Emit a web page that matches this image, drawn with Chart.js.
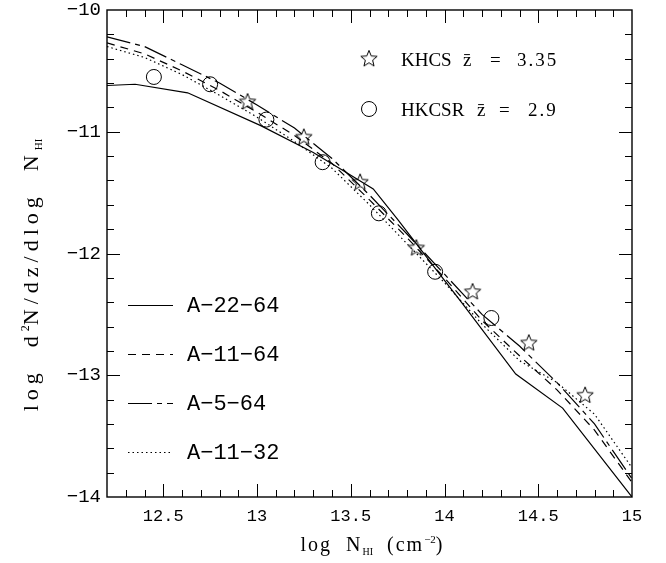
<!DOCTYPE html>
<html><head><meta charset="utf-8">
<script src="https://cdn.jsdelivr.net/npm/chart.js@4"></script>
<style>html,body{margin:0;padding:0;background:#fff;}#wrap{width:666px;height:563px;}</style>
</head><body><div id="wrap"><canvas id="c" width="666" height="563"></canvas></div>
<script>
// ---- data ----
const xTickLabels = [12.5, 13, 13.5, 14, 14.5, 15];
const yTickLabels = [-14, -13, -12, -11, -10];

const solidX = [12.2, 12.35, 12.63, 13.02, 13.3, 13.45, 13.62, 13.75, 14.0, 14.1, 14.38, 14.63, 15.0];
const a22_64 = [-10.62, -10.61, -10.68, -10.95, -11.17, -11.31, -11.47, -11.72, -12.22, -12.42, -12.99, -13.27, -14.0];

const simX   = [12.2, 12.4, 12.6, 12.8, 13.0, 13.2, 13.4, 13.6, 13.8, 14.0, 14.2, 14.4, 14.6, 14.8, 15.0];
const a11_64 = [-10.27, -10.36, -10.50, -10.66, -10.84, -11.03, -11.26, -11.56, -11.87, -12.20, -12.55, -12.84, -13.12, -13.45, -13.88];
const a5_64  = [-10.22, -10.30, -10.45, -10.60, -10.78, -10.97, -11.22, -11.52, -11.84, -12.17, -12.50, -12.76, -13.06, -13.40, -13.85];
const a11_32 = [-10.30, -10.39, -10.53, -10.70, -10.88, -11.08, -11.30, -11.60, -11.92, -12.24, -12.58, -12.88, -13.06, -13.32, -13.76];

const khcsX  = [12.95, 13.25, 13.55, 13.85, 14.15, 14.45, 14.75];
const khcsY  = [-10.75, -11.04, -11.41, -11.95, -12.31, -12.73, -13.16];
const hkcsrX = [12.45, 12.75, 13.05, 13.35, 13.65, 13.95, 14.25];
const hkcsrY = [-10.55, -10.61, -10.90, -11.25, -11.67, -12.15, -12.53];

const lineNames = ['A\u221222\u221264', 'A\u221211\u221264', 'A\u22125\u221264', 'A\u221211\u221232'];
const lineDashes = [[], [8, 6], [24, 5, 5, 5], [1.5, 3]];

// ---- helpers ----
function pts(xs, ys) { return xs.map((x, i) => ({ x: x, y: ys[i] })); }
function starPath(ctx, cx, cy, R, r) {
  ctx.beginPath();
  for (let k = 0; k < 10; k++) {
    const a = -Math.PI / 2 + k * Math.PI / 5;
    const rad = k % 2 === 0 ? R : r;
    ctx.lineTo(cx + rad * Math.cos(a), cy + rad * Math.sin(a));
  }
  ctx.closePath();
}
const starImg = document.createElement('canvas');
starImg.width = 22; starImg.height = 22;
(function () { const c = starImg.getContext('2d'); c.strokeStyle = '#000'; c.lineWidth = 1; starPath(c, 11, 11.8, 8.6, 3.8); c.stroke(); })();

function drawRich(ctx, parts, cx, cy) {
  let w = 0;
  parts.forEach(p => {
    ctx.font = p.size + 'px "Liberation Serif"';
    ctx.letterSpacing = (p.ls || 0) + 'px';
    p.w = ctx.measureText(p.t).width;
    w += p.w;
  });
  let x = cx - w / 2;
  parts.forEach(p => {
    ctx.font = p.size + 'px "Liberation Serif"';
    ctx.letterSpacing = (p.ls || 0) + 'px';
    ctx.fillText(p.t, x, cy + (p.dy || 0));
    x += p.w;
  });
  ctx.letterSpacing = '0px';
}

const framePlugin = {
  id: 'frame',
  afterDraw(chart) {
    const { ctx, chartArea: ca, scales: { x, y } } = chart;
    ctx.save();
    ctx.strokeStyle = '#000';
    ctx.lineWidth = 1.4;
    ctx.strokeRect(ca.left, ca.top, ca.right - ca.left, ca.bottom - ca.top);
    ctx.lineWidth = 1;
    ctx.beginPath();
    for (let i = Math.round(x.min * 10) + 1; i < Math.round(x.max * 10); i++) {
      const px = Math.round(x.getPixelForValue(i / 10)) + 0.5;
      const L = (i % 5 === 0) ? 13 : 7;
      ctx.moveTo(px, ca.bottom); ctx.lineTo(px, ca.bottom - L);
      ctx.moveTo(px, ca.top); ctx.lineTo(px, ca.top + L);
    }
    for (let i = Math.round(y.min * 5) + 1; i < Math.round(y.max * 5); i++) {
      const py = Math.round(y.getPixelForValue(i / 5)) + 0.5;
      const L = (i % 5 === 0) ? 13 : 7;
      ctx.moveTo(ca.left, py); ctx.lineTo(ca.left + L, py);
      ctx.moveTo(ca.right, py); ctx.lineTo(ca.right - L, py);
    }
    ctx.stroke();

    // data legend (top right)
    ctx.fillStyle = '#000';
    ctx.textBaseline = 'alphabetic';
    const lx = ca.left + 262;
    ctx.drawImage(starImg, lx - 11, ca.top + 49 - 11.8);
    ctx.beginPath(); ctx.arc(lx, ca.top + 99, 7.5, 0, Math.PI * 2); ctx.stroke();
    ctx.font = '19px "Liberation Serif"';
    ctx.fillText('KHCS', ca.left + 294, ca.top + 56);
    ctx.fillText('z\u0304', ca.left + 356, ca.top + 56);
    ctx.fillText('=', ca.left + 383, ca.top + 56);
    ctx.letterSpacing = '2px';
    ctx.fillText('3.35', ca.left + 410, ca.top + 56);
    ctx.letterSpacing = '0px';
    ctx.fillText('HKCSR', ca.left + 294, ca.top + 106);
    ctx.fillText('z\u0304', ca.left + 370, ca.top + 106);
    ctx.fillText('=', ca.left + 392, ca.top + 106);
    ctx.letterSpacing = '2px';
    ctx.fillText('2.9', ca.left + 421, ca.top + 106);
    ctx.letterSpacing = '0px';

    // model legend (bottom left)
    ctx.textBaseline = 'middle';
    ctx.font = '22px "Liberation Mono"';
    lineNames.forEach((nm, i) => {
      const yy = ca.top + 295 + 49 * i;
      ctx.setLineDash(lineDashes[i]);
      ctx.lineWidth = 1.2;
      ctx.beginPath(); ctx.moveTo(ca.left + 21, yy + 0.5); ctx.lineTo(ca.left + 66, yy + 0.5); ctx.stroke();
      ctx.setLineDash([]);
      ctx.fillText(nm, ca.left + 80, yy + 1);
    });

    // axis titles
    ctx.textBaseline = 'alphabetic';
    const cxm = (ca.left + ca.right) / 2;
    drawRich(ctx, [
      { t: 'log  N', size: 20, ls: 2 },
      { t: 'HI', size: 10, dy: 4 },
      { t: '  (cm', size: 20, ls: 2 },
      { t: '\u22122', size: 11, dy: -8 },
      { t: ')', size: 20 }
    ], cxm + 2, 551);
    ctx.save();
    ctx.translate(38, 275);
    ctx.rotate(-Math.PI / 2);
    drawRich(ctx, [
      { t: 'log  d', size: 22, ls: 5 },
      { t: '2', size: 12, dy: -9 },
      { t: 'N/dz/dlog  N', size: 22, ls: 5 },
      { t: 'HI', size: 11, dy: 4 }
    ], 0, 0);
    ctx.restore();
    ctx.restore();
  }
};

const lineStyle = { borderColor: '#000', borderWidth: 1.2, pointRadius: 0, showLine: true, fill: false, tension: 0 };

new Chart(document.getElementById('c'), {
  type: 'scatter',
  data: {
    datasets: [
      Object.assign({ label: lineNames[0], data: pts(solidX, a22_64), borderDash: lineDashes[0] }, lineStyle),
      Object.assign({ label: lineNames[1], data: pts(simX, a11_64), borderDash: lineDashes[1] }, lineStyle),
      Object.assign({ label: lineNames[2], data: pts(simX, a5_64), borderDash: lineDashes[2] }, lineStyle),
      Object.assign({ label: lineNames[3], data: pts(simX, a11_32), borderDash: lineDashes[3] }, lineStyle),
      { label: 'KHCS', data: pts(khcsX, khcsY), pointStyle: starImg, pointRadius: 9, showLine: false },
      { label: 'HKCSR', data: pts(hkcsrX, hkcsrY), pointStyle: 'circle', pointRadius: 7.5, borderColor: '#000', backgroundColor: 'rgba(0,0,0,0)', borderWidth: 1, showLine: false }
    ]
  },
  options: {
    responsive: false, animation: false, devicePixelRatio: 1,
    layout: { padding: { left: 0, right: 34, top: 7, bottom: 0 } },
    plugins: { legend: { display: false }, tooltip: { enabled: false } },
    scales: {
      x: {
        type: 'linear', min: 12.2, max: 15,
        grid: { display: false, drawTicks: false, tickLength: 0 }, border: { display: false },
        ticks: { font: { family: 'Liberation Mono', size: 17 }, color: '#000', padding: 9, maxRotation: 0, autoSkip: false, includeBounds: false, callback: v => String(v) },
        afterBuildTicks: s => { s.ticks = xTickLabels.map(v => ({ value: v })); },
        afterFit: s => { s.height = 66; s.paddingLeft = 0; s.paddingRight = 0; }
      },
      y: {
        type: 'linear', min: -14, max: -10,
        grid: { display: false, drawTicks: false, tickLength: 0 }, border: { display: false },
        ticks: { font: { family: 'Liberation Mono', size: 19 }, color: '#000', padding: 6, autoSkip: false, includeBounds: false, callback: v => '\u2212' + Math.abs(v) },
        afterBuildTicks: s => { s.ticks = yTickLabels.map(v => ({ value: v })); },
        afterFit: s => { s.width = 107; s.paddingTop = 0; s.paddingBottom = 0; }
      }
    }
  },
  plugins: [framePlugin]
});
</script></body></html>
